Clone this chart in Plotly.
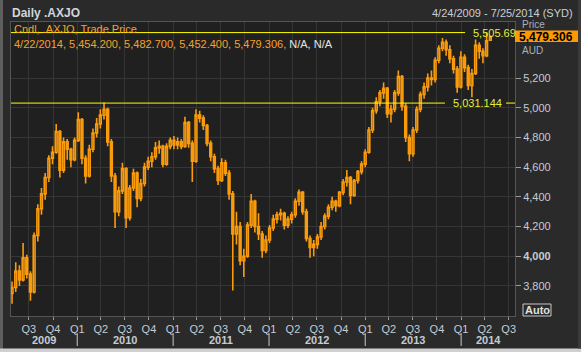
import plotly.graph_objects as go
import pandas as pd

# ---------------- data ----------------
last_date = "2014-04-22"
axis_start = "2009-04-24"
axis_end = "2014-07-25"

opens = [3750, 3790, 3900, 3840, 3990, 3880, 3760, 4140, 4320, 4420,
         4530, 4660, 4700, 4840, 4580, 4770, 4720, 4650, 4780, 4920,
         4660, 4540, 4720, 4830, 4890, 4950, 4990, 4770, 4540, 4300,
         4440, 4590, 4260, 4460, 4560, 4390, 4490, 4600, 4640, 4670,
         4730, 4740, 4620, 4740, 4780, 4750, 4770, 4740, 4900, 4760,
         4640, 4950, 4930, 4880, 4760, 4670, 4590, 4510, 4630, 4560,
         4420, 4150, 4200, 3970, 4000, 4210, 4370, 4200, 4150, 4040,
         4110, 4190, 4250, 4280, 4290, 4210, 4250, 4280, 4370, 4430,
         4300, 4120, 4060, 4080, 4130, 4200, 4270, 4330, 4370, 4340,
         4430, 4500, 4530, 4410, 4510, 4570, 4620, 4700, 4850, 4980,
         5040, 5100, 5130, 4960, 4990, 5100, 5210, 5010, 4800, 4690,
         4850, 4990, 5090, 5140, 5200, 5190, 5320, 5400, 5440, 5390,
         5330, 5260, 5140, 5340, 5270, 5150, 5230, 5420, 5380, 5350,
         5454.2]
highs = [3830, 3960, 3940, 4090, 4010, 3900, 4160, 4350, 4460, 4560,
         4680, 4740, 4890, 4850, 4800, 4790, 4730, 4800, 4970, 4930,
         4680, 4750, 4860, 4930, 4990, 5035, 5000, 4790, 4560, 4470,
         4630, 4600, 4480, 4590, 4570, 4520, 4630, 4670, 4700, 4770,
         4780, 4750, 4760, 4800, 4810, 4800, 4790, 4940, 4910, 4780,
         4990, 4980, 4950, 4890, 4780, 4690, 4610, 4660, 4650, 4580,
         4440, 4300, 4230, 4050, 4230, 4420, 4380, 4290, 4170, 4140,
         4210, 4280, 4300, 4320, 4300, 4270, 4300, 4390, 4450, 4440,
         4320, 4140, 4110, 4150, 4230, 4290, 4350, 4400, 4380, 4440,
         4520, 4580, 4540, 4520, 4580, 4640, 4720, 4870, 5000, 5070,
         5120, 5170, 5140, 5020, 5120, 5250, 5220, 5030, 4820, 4870,
         5010, 5110, 5170, 5230, 5250, 5340, 5420, 5470, 5460, 5420,
         5350, 5280, 5380, 5360, 5290, 5260, 5460, 5440, 5400, 5505.69,
         5482.7]
lows = [3680, 3760, 3800, 3830, 3850, 3700, 3750, 4100, 4280, 4380,
        4500, 4620, 4690, 4530, 4560, 4650, 4600, 4640, 4770, 4620,
        4490, 4530, 4700, 4800, 4860, 4920, 4740, 4500, 4190, 4270,
        4420, 4190, 4240, 4440, 4330, 4370, 4470, 4580, 4600, 4650,
        4690, 4600, 4610, 4720, 4720, 4720, 4720, 4730, 4730, 4500,
        4630, 4900, 4850, 4740, 4640, 4560, 4480, 4500, 4540, 4380,
        3770, 4080, 3940, 3860, 3990, 4190, 4160, 4110, 3990, 4020,
        4090, 4170, 4220, 4240, 4180, 4190, 4220, 4260, 4340, 4280,
        4100, 3990, 4000, 4050, 4110, 4180, 4250, 4310, 4300, 4330,
        4410, 4470, 4350, 4400, 4490, 4550, 4600, 4690, 4830, 4960,
        5010, 5060, 4930, 4900, 4970, 5080, 4980, 4770, 4640, 4670,
        4830, 4970, 5060, 5110, 5150, 5170, 5300, 5380, 5350, 5300,
        5230, 5100, 5130, 5240, 5120, 5070, 5220, 5330, 5300, 5340,
        5452.4]
closes = [3790, 3900, 3840, 3990, 3880, 3760, 4140, 4320, 4420, 4530,
          4660, 4700, 4840, 4580, 4770, 4720, 4650, 4780, 4920, 4660,
          4540, 4720, 4830, 4890, 4950, 4990, 4770, 4540, 4300, 4440,
          4590, 4260, 4460, 4560, 4390, 4490, 4600, 4640, 4670, 4730,
          4740, 4620, 4740, 4780, 4750, 4770, 4740, 4900, 4760, 4640,
          4950, 4930, 4880, 4760, 4670, 4590, 4510, 4630, 4560, 4420,
          4150, 4200, 3970, 4000, 4210, 4370, 4200, 4150, 4040, 4110,
          4190, 4250, 4280, 4290, 4210, 4250, 4280, 4370, 4430, 4300,
          4120, 4060, 4080, 4130, 4200, 4270, 4330, 4370, 4340, 4430,
          4500, 4530, 4410, 4510, 4570, 4620, 4700, 4850, 4980, 5040,
          5100, 5130, 4960, 4990, 5100, 5210, 5010, 4800, 4690, 4850,
          4990, 5090, 5140, 5200, 5190, 5320, 5400, 5440, 5390, 5330,
          5260, 5140, 5340, 5270, 5150, 5230, 5420, 5380, 5350, 5450,
          5479.306]

y_ticks = [3800, 4000, 4200, 4400, 4600, 4800, 5000, 5200]
y_ticktext = ["3,800", "<b>4,000</b>", "4,200", "4,400", "4,600", "4,800", "5,000", "5,200"]
levels = [5505.69, 5031.144]
level_labels = ["5,505.69", "5,031.144"]
years = [2009, 2010, 2011, 2012, 2013, 2014]
last_price_label = "5,479.306"

# ---------------- layout geometry (pixels) ----------------
W, H = 581, 352
L, R, T, B = 11, 515, 22, 316
PW, PH = R - L, B - T


def px(x):
    return (x - L) / PW


def py(y):
    return (B - y) / PH


ORANGE = "#fa9b0c"
TXT_OR = "#f5a22a"
YEL = "#ffff00"
YEL_TXT = "#e2ee3a"
LBL = "#c4ccd4"
FONT = "Liberation Sans"

dates = pd.date_range(end=last_date, periods=len(closes), freq="14D")

fig = go.Figure()
fig.add_trace(go.Candlestick(
    x=dates, open=opens, high=highs, low=lows, close=closes,
    increasing=dict(line=dict(color=ORANGE, width=1.6), fillcolor="#202020"),
    decreasing=dict(line=dict(color=ORANGE, width=1.6), fillcolor=ORANGE),
    whiskerwidth=0, hoverinfo="skip", showlegend=False,
))

q_ticks = pd.date_range("2009-07-01", "2014-07-01", freq="QS")
q_text = [f"Q{d.quarter}" for d in q_ticks]

shapes = []
annotations = []

# yellow level lines with labels
line_ends = [(0.0, 0.901, 0.912), (0.0, 0.861, 0.874)]
for lv, lab, (a, b, lx) in zip(levels, level_labels, line_ends):
    shapes.append(dict(type="line", xref="paper", yref="y", x0=a, x1=b, y0=lv, y1=lv,
                       line=dict(color=YEL, width=1)))
    annotations.append(dict(xref="paper", yref="y", x=lx, y=lv, text=lab, showarrow=False,
                            xanchor="left", yanchor="middle",
                            font=dict(family=FONT, size=11, color=YEL_TXT)))
shapes.append(dict(type="line", xref="paper", yref="y", x0=px(506), x1=1.0,
                   y0=levels[1], y1=levels[1], line=dict(color=YEL, width=1)))

# year labels and separators
s, e = pd.Timestamp(axis_start), pd.Timestamp(axis_end)
for yr in years:
    a = max(s, pd.Timestamp(f"{yr}-01-01"))
    b = min(e, pd.Timestamp(f"{yr}-12-31"))
    mid = a + (b - a) / 2
    annotations.append(dict(xref="x", yref="paper", x=mid, y=py(340), text=f"<b>{yr}</b>",
                            showarrow=False, xanchor="center", yanchor="middle",
                            font=dict(family=FONT, size=11, color=LBL)))
    if yr > years[0]:
        shapes.append(dict(type="line", xref="x", yref="paper",
                           x0=pd.Timestamp(f"{yr}-01-01"), x1=pd.Timestamp(f"{yr}-01-01"),
                           y0=py(333), y1=py(346), line=dict(color="#c8c8c8", width=1)))

# header texts
annotations += [
    dict(xref="paper", yref="paper", x=px(10), y=py(12.5), text="<b>Daily .AXJO</b>",
         showarrow=False, xanchor="left", yanchor="middle",
         font=dict(family=FONT, size=12, color="#d0d6dc")),
    dict(xref="paper", yref="paper", x=px(575), y=py(12.5), text="4/24/2009 - 7/25/2014 (SYD)",
         showarrow=False, xanchor="right", yanchor="middle",
         font=dict(family=FONT, size=11, color="#c8ced4")),
    dict(xref="paper", yref="paper", x=px(12), y=py(29.5), text="Cndl, .AXJO, Trade Price",
         showarrow=False, xanchor="left", yanchor="middle",
         font=dict(family=FONT, size=11, color=TXT_OR)),
    dict(xref="paper", yref="paper", x=px(12), y=py(43.5),
         text=f"<span style='color:{TXT_OR}'>4/22/2014, 5,454.200, 5,482.700, 5,452.400, 5,479.306, </span>"
              "<span style='color:#e4e4e4'>N/A, N/A</span>",
         showarrow=False, xanchor="left", yanchor="middle",
         font=dict(family=FONT, size=11, color=TXT_OR)),
    dict(xref="paper", yref="paper", x=px(520), y=py(24), text="Price",
         showarrow=False, xanchor="left", yanchor="middle",
         font=dict(family=FONT, size=10, color="#a8b0b8")),
    dict(xref="paper", yref="paper", x=px(520), y=py(50), text="AUD",
         showarrow=False, xanchor="left", yanchor="middle",
         font=dict(family=FONT, size=10, color="#a8b0b8")),
]

# last price box
shapes.append(dict(type="rect", xref="paper", yref="paper", x0=px(515), x1=px(578),
                   y0=py(42), y1=py(30.5), fillcolor="#ff9900", line=dict(width=0)))
annotations.append(dict(xref="paper", yref="paper", x=px(517), y=py(36.5),
                        text=f"<b>{last_price_label}</b>", showarrow=False,
                        xanchor="left", yanchor="middle",
                        font=dict(family=FONT, size=12, color="#000000")))
# Auto box
shapes.append(dict(type="rect", xref="paper", yref="paper", x0=px(523), x1=px(551),
                   y0=py(316), y1=py(304), fillcolor="rgba(0,0,0,0)",
                   line=dict(color="#c8c8c8", width=1)))
annotations.append(dict(xref="paper", yref="paper", x=px(537), y=py(310), text="<b>Auto</b>",
                        showarrow=False, xanchor="center", yanchor="middle",
                        font=dict(family=FONT, size=11, color="#e0e0e0")))

# window frame edges
shapes.append(dict(type="rect", xref="paper", yref="paper", x0=px(0), x1=px(3),
                   y0=py(352), y1=py(0), fillcolor="#5e5e5e", line=dict(width=0), layer="below"))
shapes.append(dict(type="rect", xref="paper", yref="paper", x0=px(0), x1=px(581),
                   y0=py(352), y1=py(348.5), fillcolor="#d0d0d0", line=dict(width=0)))
shapes.append(dict(type="rect", xref="paper", yref="paper", x0=px(578), x1=px(581),
                   y0=py(348.5), y1=py(0), fillcolor="#3a3a3a", line=dict(width=0)))

fig.update_layout(
    width=W, height=H,
    margin=dict(l=L, r=W - R, t=T, b=H - B, pad=0),
    paper_bgcolor="#2a2a2a", plot_bgcolor="#202020",
    font=dict(family=FONT, size=11, color=LBL),
    showlegend=False,
    shapes=shapes, annotations=annotations,
    xaxis=dict(
        type="date", range=[axis_start, axis_end],
        rangeslider=dict(visible=False),
        tickmode="array", tickvals=q_ticks, ticktext=q_text,
        ticks="outside", ticklen=3, tickcolor="#9a9a9a",
        tickfont=dict(family=FONT, size=11, color=LBL),
        showgrid=True, gridcolor="#363636", gridwidth=1,
        showline=True, linecolor="#555555", mirror=True,
        zeroline=False, fixedrange=True,
    ),
    yaxis=dict(
        side="right", range=[3598, 5577],
        tickmode="array", tickvals=y_ticks, ticktext=y_ticktext,
        ticks="outside", ticklen=5, tickcolor="#9a9a9a",
        tickfont=dict(family=FONT, size=11, color=LBL),
        showgrid=True, gridcolor="#363636", gridwidth=1,
        showline=True, linecolor="#555555", mirror=True,
        zeroline=False, fixedrange=True,
    ),
)

fig.write_html("out.html", config={"displayModeBar": False})
